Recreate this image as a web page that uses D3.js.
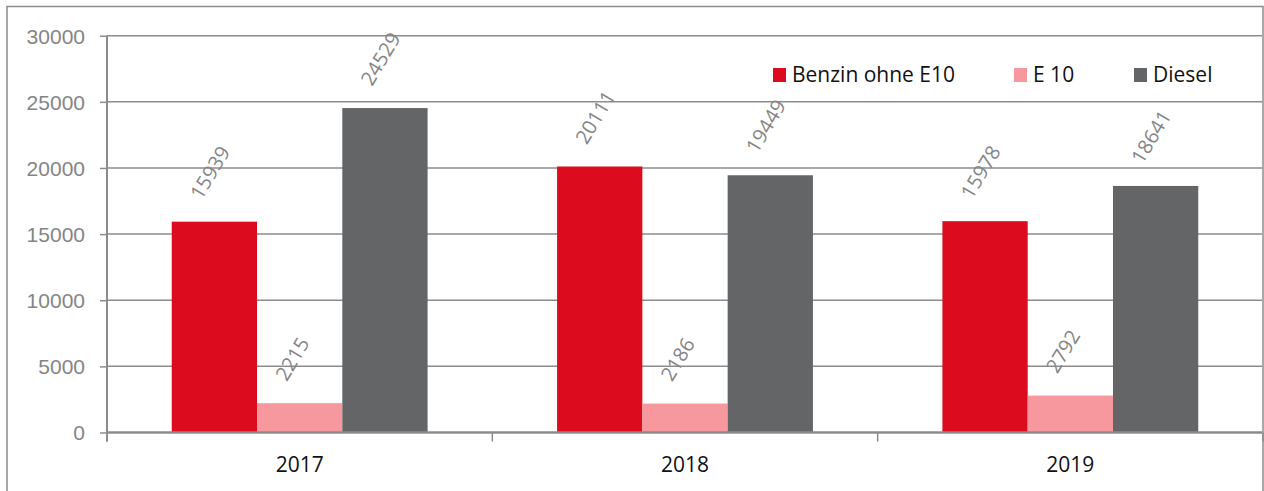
<!DOCTYPE html>
<html>
<head>
<meta charset="utf-8">
<script src="https://cdn.jsdelivr.net/npm/d3@7"></script>
<style>
  body { margin: 0; background: #fff; }
  svg { display: block; font-family: "Open Sans", "Noto Sans", sans-serif; }
</style>
</head>
<body>
<svg id="viz" width="1264" height="491"></svg>
<script>
// Kraftstoff nach Jahr
var years = ["2017", "2018", "2019"];
var seriesNames = ["Benzin ohne E10", "E 10", "Diesel"];
var benzin = [15939, 20111, 15978];
var e10 = [2215, 2186, 2792];
var diesel = [24529, 19449, 18641];
var yTicks = [0, 5000, 10000, 15000, 20000, 25000, 30000];
var colors = ["#dc0c1e", "#f7989f", "#646567"];

var values = [benzin, e10, diesel];

var svg = d3.select("#viz");

// outer frame
svg.append("rect")
  .attr("x", 7).attr("y", 6.5)
  .attr("width", 1256).attr("height", 500)
  .attr("fill", "none")
  .attr("stroke", "#8c8c8c")
  .attr("stroke-width", 1.5);

var plotLeft = 107, plotRight = 1263, plotTop = 35.7, plotBottom = 432.5;

var x = d3.scaleBand().domain(years).range([plotLeft, plotRight])
  .paddingInner(0.336).paddingOuter(0.168);
var xs = d3.scaleBand().domain(seriesNames).range([0, x.bandwidth()]);
var y = d3.scaleLinear().domain([0, 30000]).range([plotBottom, plotTop]);

// gridlines
svg.append("g").selectAll("line")
  .data(yTicks.filter(d => d > 0))
  .join("line")
  .attr("x1", plotLeft).attr("x2", plotRight - 1)
  .attr("y1", d => y(d)).attr("y2", d => y(d))
  .attr("stroke", "#8c8c8c")
  .attr("stroke-width", 1.5);

// y axis
var yAxis = svg.append("g")
  .attr("transform", `translate(${plotLeft},0)`)
  .call(d3.axisLeft(y).tickValues(yTicks).tickSize(7).tickPadding(15).tickFormat(d3.format("d")));
yAxis.select(".domain").attr("stroke", "#8c8c8c").attr("stroke-width", 2)
  .attr("d", `M0,${plotTop}V${plotBottom + 9}`);
yAxis.selectAll(".tick line").attr("stroke", "#8c8c8c").attr("stroke-width", 1.5);
yAxis.selectAll(".tick text")
  .attr("fill", "#858585")
  .style("font-size", "21px")
  .attr("dy", "0.35em");

// bars
var group = svg.append("g").selectAll("g")
  .data(years)
  .join("g")
  .attr("transform", d => `translate(${x(d)},0)`);

group.selectAll("rect")
  .data((d, i) => seriesNames.map((s, j) => ({ s: s, v: values[j][i], c: colors[j] })))
  .join("rect")
  .attr("x", d => xs(d.s))
  .attr("y", d => y(d.v))
  .attr("width", xs.bandwidth())
  .attr("height", d => y(0) - y(d.v))
  .attr("fill", d => d.c);

// value labels
group.selectAll("text")
  .data((d, i) => seriesNames.map((s, j) => ({ s: s, v: values[j][i] })))
  .join("text")
  .attr("transform", d => `translate(${xs(d.s) + xs.bandwidth() / 2 - 13},${y(d.v) - 21}) rotate(-59)`)
  .attr("fill", "#858585")
  .style("font-size", "20px")
  .text(d => d.v);

// x axis
svg.append("line")
  .attr("x1", plotLeft).attr("x2", plotRight - 1)
  .attr("y1", plotBottom).attr("y2", plotBottom)
  .attr("stroke", "#8c8c8c").attr("stroke-width", 2.5);

var step = x.step();
svg.append("g").selectAll("line")
  .data(d3.range(years.length + 1))
  .join("line")
  .attr("x1", i => plotLeft + i * step).attr("x2", i => plotLeft + i * step)
  .attr("y1", plotBottom).attr("y2", plotBottom + 9)
  .attr("stroke", "#8c8c8c").attr("stroke-width", 1.5);

svg.append("g").selectAll("text")
  .data(years)
  .join("text")
  .attr("x", d => x(d) + x.bandwidth() / 2)
  .attr("y", 472)
  .attr("text-anchor", "middle")
  .attr("fill", "#111")
  .style("font-size", "21px")
  .text(d => d);

// legend
var legendX = [773, 1014, 1134];
var legend = svg.append("g").selectAll("g")
  .data(seriesNames)
  .join("g")
  .attr("transform", (d, i) => `translate(${legendX[i]},68)`);
legend.append("rect")
  .attr("width", 13).attr("height", 14)
  .attr("fill", (d, i) => colors[i]);
legend.append("text")
  .attr("x", 19).attr("y", 14)
  .attr("fill", "#111")
  .style("font-size", "21px")
  .text(d => d);
</script>
</body>
</html>
